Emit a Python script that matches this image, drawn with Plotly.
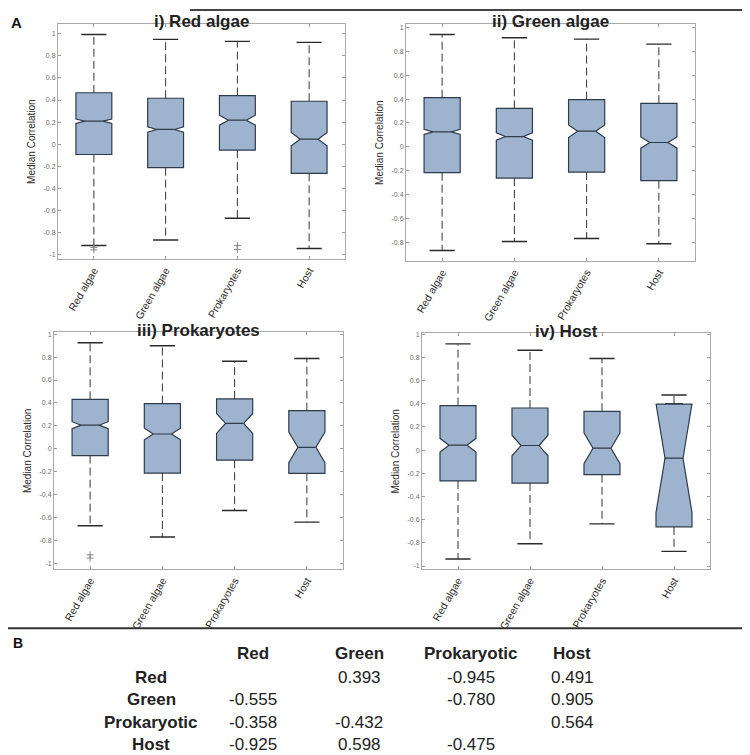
import plotly.graph_objects as go

categories = ["Red algae", "Green algae", "Prokaryotes", "Host"]
panel_titles = ["i) Red algae", "ii) Green algae", "iii) Prokaryotes", "iv) Host"]

# ---- panel i) Red algae ----
p1_q1 = [-0.094, -0.214, -0.054, -0.265]
p1_med = [0.208, 0.133, 0.217, 0.045]
p1_q3 = [0.466, 0.416, 0.440, 0.389]
p1_lo = [-0.920, -0.869, -0.673, -0.947]
p1_hi = [0.995, 0.950, 0.932, 0.923]
p1_notch = [0.020, 0.025, 0.045, 0.060]
p1_out_x = ["Red algae", "Red algae", "Prokaryotes", "Prokaryotes"]
p1_out_y = [-0.938, -0.959, -0.920, -0.955]

# ---- panel ii) Green algae ----
p2_q1 = [-0.217, -0.262, -0.212, -0.284]
p2_med = [0.125, 0.086, 0.131, 0.036]
p2_q3 = [0.412, 0.323, 0.396, 0.365]
p2_lo = [-0.869, -0.794, -0.769, -0.813]
p2_hi = [0.942, 0.914, 0.903, 0.861]
p2_notch = [0.021, 0.031, 0.053, 0.047]
p2_out_x = []
p2_out_y = []

# ---- panel iii) Prokaryotes ----
p3_q1 = [-0.058, -0.210, -0.098, -0.213]
p3_med = [0.207, 0.130, 0.222, 0.014]
p3_q3 = [0.432, 0.395, 0.435, 0.334]
p3_lo = [-0.669, -0.767, -0.536, -0.637]
p3_hi = [0.925, 0.899, 0.764, 0.787]
p3_notch = [0.030, 0.050, 0.087, 0.133]
p3_out_x = ["Red algae", "Red algae"]
p3_out_y = [-0.922, -0.951]

# ---- panel iv) Host ----
p4_q1 = [-0.266, -0.284, -0.212, -0.662]
p4_med = [0.043, 0.040, 0.017, -0.069]
p4_q3 = [0.384, 0.364, 0.335, 0.398]
p4_lo = [-0.940, -0.808, -0.636, -0.874]
p4_hi = [0.917, 0.862, 0.791, 0.476]
p4_notch = [0.059, 0.089, 0.133, 0.470]
p4_out_x = []
p4_out_y = []

y_tickvals = [-1, -0.8, -0.6, -0.4, -0.2, 0, 0.2, 0.4, 0.6, 0.8, 1]
y_ticktext = ["-1", "-0.8", "-0.6", "-0.4", "-0.2", "0", "0.2", "0.4", "0.6", "0.8", "1"]
y_ranges = [[-1.045, 1.09], [-0.96, 1.03], [-1.05, 1.017], [-1.03, 1.01]]

# ---- table B ----
table_cols = ["Red", "Green", "Prokaryotic", "Host"]
table_rows = ["Red", "Green", "Prokaryotic", "Host"]
table_vals = [
    [None, "0.393", "-0.945", "0.491"],
    ["-0.555", None, "-0.780", "0.905"],
    ["-0.358", "-0.432", None, "0.564"],
    ["-0.925", "0.598", "-0.475", None],
]

# page body has an 8px margin; the figure is sized to fit the window
OFF = 8
W, H = 750 - OFF, 755 - OFF
FILL = "#9EB4CE"
EDGE = "#2E3B4B"
FONT = "Liberation Sans, Arial, sans-serif"


def px(x):
    return (x - OFF) / W


def py(y):
    return 1 - (y - OFF) / H


panels = [
    (p1_q1, p1_med, p1_q3, p1_lo, p1_hi, p1_notch, p1_out_x, p1_out_y),
    (p2_q1, p2_med, p2_q3, p2_lo, p2_hi, p2_notch, p2_out_x, p2_out_y),
    (p3_q1, p3_med, p3_q3, p3_lo, p3_hi, p3_notch, p3_out_x, p3_out_y),
    (p4_q1, p4_med, p4_q3, p4_lo, p4_hi, p4_notch, p4_out_x, p4_out_y),
]
# window-pixel frames (left, right, top, bottom)
frames = [(58, 345, 22, 258), (406, 695, 22, 260), (54, 343, 331, 569), (422, 710, 332, 569)]

fig = go.Figure()
layout = {}
annotations = []

for i, (q1, med, q3, lo, hi, notch, ox, oy) in enumerate(panels):
    n = "" if i == 0 else str(i + 1)
    xa, ya = "x" + n, "y" + n
    # dashed whiskers
    wx, wy = [], []
    for c, a, b, l, h in zip(categories, q1, q3, lo, hi):
        wx += [c, c, None, c, c, None]
        wy += [b, h, None, a, l, None]
    fig.add_trace(go.Scatter(x=wx, y=wy, mode="lines", xaxis=xa, yaxis=ya,
                             line=dict(color="#333333", width=1, dash="8px,4px"),
                             showlegend=False, hoverinfo="skip"))
    # whisker caps
    fig.add_trace(go.Scatter(x=categories + categories, y=lo + hi, mode="markers",
                             xaxis=xa, yaxis=ya,
                             marker=dict(symbol="line-ew", size=18,
                                         line=dict(color="#2a2a2a", width=1.4)),
                             showlegend=False, hoverinfo="skip"))
    # notched boxes
    fig.add_trace(go.Box(x=categories, q1=q1, median=med, q3=q3,
                         lowerfence=q1, upperfence=q3, notchspan=notch,
                         notched=True, notchwidth=0.25, width=0.5,
                         fillcolor=FILL, line=dict(color=EDGE, width=1.2),
                         boxpoints=False, xaxis=xa, yaxis=ya, showlegend=False))
    # outliers
    if ox:
        fig.add_trace(go.Scatter(x=ox, y=oy, mode="markers", xaxis=xa, yaxis=ya,
                                 marker=dict(symbol="cross-thin", size=5,
                                             line=dict(color="#888888", width=1)),
                                 showlegend=False, hoverinfo="skip"))

    L, R, T, B = frames[i]
    layout["xaxis" + n] = dict(
        domain=[px(L), px(R)], anchor=ya, type="category",
        categoryorder="array", categoryarray=categories,
        range=[-0.5, 3.5], tickangle=-60,
        tickfont=dict(family=FONT, size=10.5, color="#2a2a2a"),
        ticks="inside", ticklen=3, tickcolor="#999999", mirror="allticks",
        showline=True, linecolor="#AAAAAA", linewidth=1, showgrid=False, zeroline=False,
    )
    layout["yaxis" + n] = dict(
        domain=[py(B), py(T)], anchor=xa, range=y_ranges[i],
        tickvals=y_tickvals, ticktext=y_ticktext,
        tickfont=dict(family=FONT, size=7, color="#6f6f6f"),
        ticks="inside", ticklen=3, tickcolor="#999999", mirror="allticks",
        showline=True, linecolor="#AAAAAA", linewidth=1, showgrid=False, zeroline=False,
        title=dict(text="Median Correlation", standoff=6,
                   font=dict(family=FONT, size=10, color="#2a2a2a")),
    )
    annotations.append(dict(
        text="<b>" + panel_titles[i] + "</b>", xref="paper", yref="paper",
        x=px((L + R) / 2), y=py(T - 2), xanchor="center", yanchor="middle",
        showarrow=False, font=dict(family=FONT, size=17, color="#222222"),
    ))

# panel labels
annotations.append(dict(text="<b>A</b>", xref="paper", yref="paper", x=px(9), y=py(21),
                        xanchor="left", yanchor="middle", showarrow=False,
                        font=dict(family=FONT, size=15, color="#111111")))
annotations.append(dict(text="<b>B</b>", xref="paper", yref="paper", x=px(11), y=py(643),
                        xanchor="left", yanchor="middle", showarrow=False,
                        font=dict(family=FONT, size=14, color="#111111")))

# table B
col_x = [253, 359, 471, 572]
row_x = 151
header_y = 653
row_y = [677, 699, 722, 744]
for cx, name in zip(col_x, table_cols):
    annotations.append(dict(text="<b>" + name + "</b>", xref="paper", yref="paper",
                            x=px(cx), y=py(header_y), xanchor="center", yanchor="middle",
                            showarrow=False, font=dict(family=FONT, size=17, color="#222222")))
for ry, name, vals in zip(row_y, table_rows, table_vals):
    annotations.append(dict(text="<b>" + name + "</b>", xref="paper", yref="paper",
                            x=px(row_x), y=py(ry), xanchor="center", yanchor="middle",
                            showarrow=False, font=dict(family=FONT, size=17, color="#222222")))
    for cx, v in zip(col_x, vals):
        if v is None:
            continue
        annotations.append(dict(text=v, xref="paper", yref="paper",
                                x=px(cx), y=py(ry), xanchor="center", yanchor="middle",
                                showarrow=False, font=dict(family=FONT, size=17, color="#222222")))

shapes = [
    dict(type="line", xref="paper", yref="paper", x0=px(190), x1=1, y0=1, y1=1,
         line=dict(color="#444444", width=2)),
    dict(type="line", xref="paper", yref="paper", x0=0, x1=1, y0=py(628), y1=py(628),
         line=dict(color="#333333", width=2)),
]

fig.update_layout(
    width=W, height=H, margin=dict(l=0, r=0, t=0, b=0),
    paper_bgcolor="white", plot_bgcolor="white",
    annotations=annotations, shapes=shapes, showlegend=False,
    font=dict(family=FONT),
    **layout,
)

fig.write_html("out.html")
